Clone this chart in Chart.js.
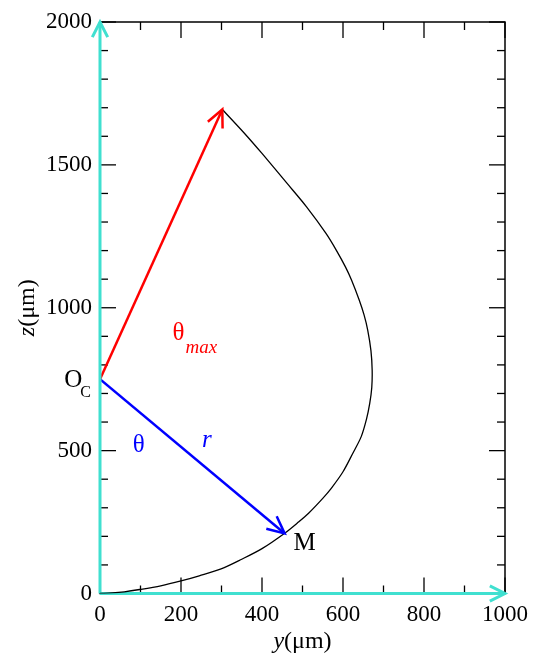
<!DOCTYPE html>
<html>
<head>
<meta charset="utf-8">
<script src="https://cdn.jsdelivr.net/npm/chart.js@4.4.1/dist/chart.umd.min.js"></script>
<style>
  body { margin: 0; background: #fff; }
  canvas { display: block; }
</style>
</head>
<body>
<canvas id="chart" width="536" height="654"></canvas>
<script>
// droplet profile, y (µm) and z (µm)
const profileY = [0, 30, 60, 98, 150, 200, 245, 299, 350, 400, 456, 490, 515, 550, 571, 600, 624, 645, 658, 666, 671, 672, 669, 661, 652, 640, 621, 606, 584, 558, 510, 462, 400, 357, 302];
const profileZ = [0, 2, 6, 14, 27, 44, 62, 86, 120, 157, 211, 250, 281, 333, 368, 426, 490, 549, 610, 665, 720, 782, 850, 922, 975, 1027, 1097, 1143, 1200, 1260, 1353, 1435, 1540, 1610, 1694];

// arrows: O_C -> apex (theta max), O_C -> M (r)
const centerOc = [0, 750];
const apexPoint = [302, 1694];
const pointM = [456, 210];

const xTicks = [0, 200, 400, 600, 800, 1000];
const zTicks = [0, 500, 1000, 1500, 2000];
const xMinorStep = 100;
const zMinorStep = 100;

const SERIF = '"Liberation Serif", "Times New Roman", serif';
const CYAN = '#40E0D0';

const pt = (a) => ({ x: a[0], y: a[1] });

function strokeLine(ctx, x0, y0, x1, y1) {
    ctx.beginPath();
    ctx.moveTo(x0, y0);
    ctx.lineTo(x1, y1);
    ctx.stroke();
}

function drawArrowHead(ctx, from, to, len, spread) {
    const ang = Math.atan2(to.y - from.y, to.x - from.x) + Math.PI;
    ctx.beginPath();
    ctx.moveTo(to.x + len * Math.cos(ang - spread), to.y + len * Math.sin(ang - spread));
    ctx.lineTo(to.x, to.y);
    ctx.lineTo(to.x + len * Math.cos(ang + spread), to.y + len * Math.sin(ang + spread));
    ctx.stroke();
}

// frame with inward ticks on all four sides
const framePlugin = {
    id: 'frame',
    beforeDatasetsDraw(chart) {
        const { ctx, chartArea: a, scales } = chart;
        ctx.save();
        ctx.strokeStyle = '#000';
        ctx.lineWidth = 1.5;
        ctx.strokeRect(a.left, a.top, a.right - a.left, a.bottom - a.top);
        ctx.lineWidth = 1.3;
        for (let v = scales.x.min; v <= scales.x.max; v += xMinorStep) {
            const px = scales.x.getPixelForValue(v);
            const len = xTicks.includes(v) ? 16 : 8;
            strokeLine(ctx, px, a.bottom, px, a.bottom - len);
            strokeLine(ctx, px, a.top, px, a.top + len);
        }
        for (let v = scales.y.min; v <= scales.y.max; v += zMinorStep) {
            const py = scales.y.getPixelForValue(v);
            const len = zTicks.includes(v) ? 16 : 8;
            strokeLine(ctx, a.left, py, a.left + len, py);
            strokeLine(ctx, a.right, py, a.right - len, py);
        }
        ctx.restore();
    },
    afterDatasetsDraw(chart) {
        const { ctx, scales } = chart;
        ctx.save();
        ctx.lineJoin = 'miter';
        chart.data.datasets.forEach((ds, i) => {
            if (!ds.arrow) return;
            const pts = chart.getDatasetMeta(i).data;
            const a = pts[pts.length - 2], b = pts[pts.length - 1];
            ctx.strokeStyle = ds.borderColor;
            ctx.lineWidth = ds.borderWidth;
            drawArrowHead(ctx, a, b, ds.arrow.len, ds.arrow.spread);
        });

        // annotations placed in data coordinates
        const at = (x, z) => [scales.x.getPixelForValue(x), scales.y.getPixelForValue(z)];
        const label = (text, font, color, x, z) => {
            const p = at(x, z);
            ctx.font = font;
            ctx.fillStyle = color;
            ctx.textAlign = 'left';
            ctx.textBaseline = 'alphabetic';
            ctx.fillText(text, p[0], p[1]);
        };
        label('\u03B8', '25px ' + SERIF, '#ff0000', 179, 887);
        label('max', 'italic 19px ' + SERIF, '#ff0000', 211, 841);
        label('O', '25px ' + SERIF, '#000', -88, 722);
        label('C', '16px ' + SERIF, '#000', -49, 687);
        label('\u03B8', '25px ' + SERIF, '#0000ff', 81, 495);
        label('r', 'italic 25px ' + SERIF, '#0000ff', 252, 513);
        label('M', '25px ' + SERIF, '#000', 478, 152);
        ctx.restore();
    },
    afterDraw(chart) {
        const { ctx, chartArea: a } = chart;
        ctx.save();
        ctx.fillStyle = '#000';
        ctx.textBaseline = 'alphabetic';
        ctx.textAlign = 'left';
        const title = (letter, cx, cy, rot) => {
            ctx.save();
            ctx.translate(cx, cy);
            ctx.rotate(rot);
            ctx.font = 'italic 24px ' + SERIF;
            const w1 = ctx.measureText(letter).width;
            ctx.font = '24px ' + SERIF;
            const w2 = ctx.measureText('(\u03BCm)').width;
            const x0 = -(w1 + w2) / 2;
            ctx.font = 'italic 24px ' + SERIF;
            ctx.fillText(letter, x0, 0);
            ctx.font = '24px ' + SERIF;
            ctx.fillText('(\u03BCm)', x0 + w1, 0);
            ctx.restore();
        };
        title('y', (a.left + a.right) / 2, 648, 0);
        title('z', 34, (a.top + a.bottom) / 2, -Math.PI / 2);
        ctx.restore();
    }
};

const profile = profileY.map((y, i) => ({ x: y, y: profileZ[i] }));

new Chart(document.getElementById('chart'), {
    type: 'scatter',
    data: {
        datasets: [
            {
                data: profile,
                showLine: true,
                borderColor: '#000',
                borderWidth: 1.3,
                pointRadius: 0,
                tension: 0.3
            },
            {
                data: [{ x: 0, y: 0 }, { x: 0, y: zTicks[zTicks.length - 1] }],
                showLine: true,
                borderColor: CYAN,
                borderWidth: 3,
                pointRadius: 0,
                clip: false,
                arrow: { len: 17, spread: 0.47 }
            },
            {
                data: [{ x: 0, y: 0 }, { x: xTicks[xTicks.length - 1], y: 0 }],
                showLine: true,
                borderColor: CYAN,
                borderWidth: 3,
                pointRadius: 0,
                clip: false,
                arrow: { len: 17, spread: 0.47 }
            },
            {
                data: [pt(centerOc), pt(apexPoint)],
                showLine: true,
                borderColor: '#ff0000',
                borderWidth: 2.5,
                pointRadius: 0,
                arrow: { len: 19, spread: 0.44 }
            },
            {
                data: [pt(centerOc), pt(pointM)],
                showLine: true,
                borderColor: '#0000ff',
                borderWidth: 2.5,
                pointRadius: 0,
                arrow: { len: 19, spread: 0.44 }
            }
        ]
    },
    options: {
        responsive: false,
        animation: false,
        layout: { padding: { top: 22, right: 28, left: 0, bottom: 0 } },
        plugins: {
            legend: { display: false },
            tooltip: { enabled: false }
        },
        scales: {
            x: {
                type: 'linear',
                min: 0,
                max: 1000,
                afterBuildTicks: (s) => { s.ticks = xTicks.map(v => ({ value: v })); },
                afterFit: (s) => { s.height = 60.5; },
                grid: { display: false, drawTicks: false },
                border: { display: false },
                ticks: {
                    color: '#000',
                    padding: 8,
                    maxRotation: 0,
                    autoSkip: false,
                    callback: (v) => String(v),
                    font: { family: SERIF, size: 23 }
                }
            },
            y: {
                type: 'linear',
                min: 0,
                max: 2000,
                afterBuildTicks: (s) => { s.ticks = zTicks.map(v => ({ value: v })); },
                afterFit: (s) => { s.width = 100; },
                grid: { display: false, drawTicks: false },
                border: { display: false },
                ticks: {
                    color: '#000',
                    padding: 8,
                    autoSkip: false,
                    callback: (v) => String(v),
                    font: { family: SERIF, size: 23 }
                }
            }
        }
    },
    plugins: [framePlugin]
});
</script>
</body>
</html>
